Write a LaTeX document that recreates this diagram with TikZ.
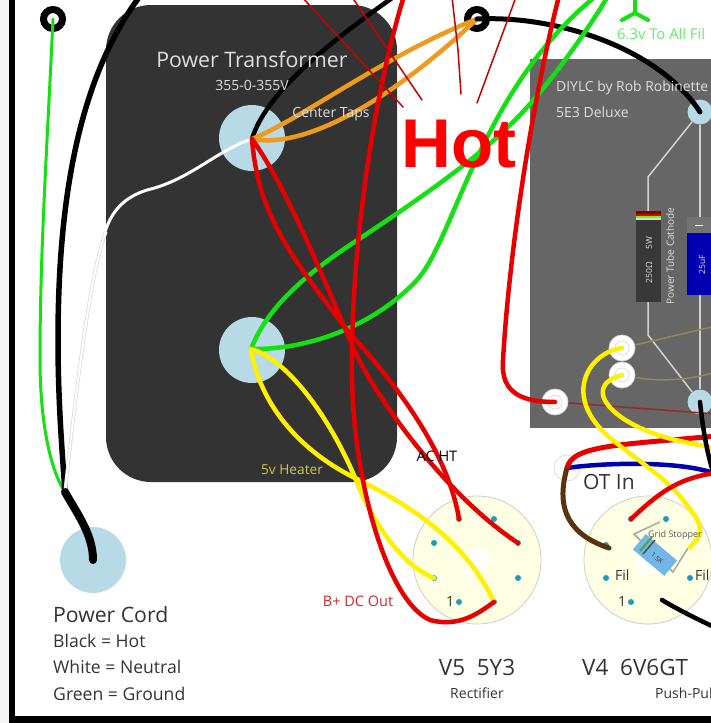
\documentclass[tikz,border=0pt]{standalone}
\usepackage{fontspec}
\setmainfont{Open Sans}
\newfontfamily\hotfont{Liberation Sans}
\definecolor{lugblue}{HTML}{B8D9E6}
\definecolor{xfmrgrey}{HTML}{333333}
\definecolor{chassisgrey}{HTML}{666666}
\definecolor{sockcream}{HTML}{FFFFE3}
\definecolor{pinteal}{HTML}{1C9CB8}
\definecolor{wirered}{HTML}{E60000}
\definecolor{wiregreen}{HTML}{14E014}
\definecolor{wireorange}{HTML}{EE9A1C}
\definecolor{wireyellow}{HTML}{FFF000}
\definecolor{wirebrown}{HTML}{5C320C}
\definecolor{wireblue}{HTML}{0000B0}
\definecolor{stopblue}{HTML}{74B6E8}
\tikzset{
    lug/.style={circle, fill=lugblue, inner sep=0pt, minimum size=66pt},
    smalllug/.style={circle, fill=lugblue, inner sep=0pt, minimum size=25pt},
    eyelet/.style={circle, draw=black, line width=7pt, fill=white, inner sep=0pt, minimum size=19pt},
    ringlug/.style={circle, draw=black!15, line width=0.7pt, fill=white, inner sep=0pt, minimum size=26pt},
    socket/.style={circle, draw=black!22, line width=0.7pt, fill=sockcream, inner sep=0pt, minimum size=128pt},
    sockhole/.style={circle, fill=white, inner sep=0pt, minimum size=24pt},
    pin/.style={circle, fill=pinteal, inner sep=0pt, minimum size=6pt},
    wire/.style={line width=4.5pt, line cap=round, line join=round},
    thinwire/.style={line width=1.5pt, line cap=round},
    trace/.style={line width=1.5pt, draw=black!18},
    txt/.style={inner sep=0pt, text=black!80},
    lighttxt/.style={inner sep=0pt, text=black!13}
}
\begin{document}
\begin{tikzpicture}[x=1pt, y=-1pt]
        \useasboundingbox (0,0) rectangle (711,723);
        \clip (0,0) rectangle (711,723);
        % Page edge and frame
        \fill[black!4] (0,0) rectangle (9,723);
        \fill[black] (9,0) rectangle (15,723);
        \fill[black] (9,716) rectangle (711,723);

        % Transformer and chassis
        \fill[xfmrgrey, rounded corners=45pt] (106,5) rectangle (397,482);
        \fill[chassisgrey] (530,59) rectangle (720,428);

        % Terminals
        \node[lug] (TapLug) at (252,138) {};
        \node[lug] (HeatLug) at (252,350) {};
        \node[lug] (CordLug) at (93,560) {};
        \node[eyelet] (GndEye) at (53,19) {};
        \node[eyelet] (TapEye) at (477,19) {};
        \node[smalllug] (TopLug) at (700,112) {};
        \node[smalllug] (LowLug) at (700,402) {};
        \node[ringlug] (OliveA) at (622,348) {};
        \node[ringlug] (OliveB) at (622,375) {};
        \node[ringlug] (RedLug) at (555,402) {};
        \node[ringlug] (OTLug) at (567,468) {};
        \draw[black!15, line width=0.7pt] (OliveA) circle (7pt);
        \draw[black!15, line width=0.7pt] (OliveB) circle (7pt);
        \draw[black!15, line width=0.7pt] (RedLug) circle (7pt);

        % Sockets
        \node[socket] (V5) at (477,560) {};
        \node[socket] (V4) at (648,560) {};
        \node[sockhole] (V5hole) at (477,560) {};
        \node[sockhole] (V4hole) at (648,560) {};
        \node[circle, fill=white, inner sep=0pt, minimum size=11pt] (V5notch) at (469,570) {};
        \node[circle, fill=white, inner sep=0pt, minimum size=11pt] (V4notch) at (644,570) {};
        \node[pin] (V5a) at (459,519) {};
        \node[pin] (V5b) at (494,519) {};
        \node[pin] (V5c) at (434,543) {};
        \node[pin] (V5d) at (518,543) {};
        \node[pin] (V5e) at (434,578) {};
        \node[pin] (V5f) at (518,578) {};
        \node[pin] (V5g) at (459,602) {};
        \node[pin] (V5h) at (494,602) {};
        \node[pin] (V4a) at (631,519) {};
        \node[pin] (V4b) at (666,519) {};
        \node[pin] (V4c) at (606,545) {};
        \node[pin] (V4e) at (606,578) {};
        \node[pin] (V4f) at (690,578) {};
        \node[pin] (V4g) at (631,602) {};

        % Free wire ends
        \coordinate (CordEnd) at (65,492);
        \coordinate (BlackTop) at (140,-4);
        \coordinate (TapOut) at (395,-4);
        \coordinate (RedTop) at (404,-4);
        \coordinate (RedTopB) at (559,-4);
        \coordinate (GreenTopA) at (596,-4);
        \coordinate (GreenTopB) at (608,-4);
        \coordinate (EdgeA) at (716,436);
        \coordinate (EdgeB) at (716,449);
        \coordinate (EdgeC) at (716,473);
        \coordinate (EdgeD) at (716,480);
        \coordinate (EdgeE) at (716,628);
        \coordinate (EdgeF) at (716,474);
        \coordinate (GridEnd) at (690,547);
        \coordinate (TapPoint) at (252,139);
        \coordinate (HeatPoint) at (251,349);
        \coordinate (V4brown) at (609,548);
        \coordinate (V4black) at (662,600);

        % Chassis traces
        \draw[trace] (TopLug) -- (648,177) -- (648,335) -- (LowLug);
        \draw[trace] (TopLug) -- (LowLug);
        \draw[line width=1.5pt, draw=olive!55!black!70!white] (OliveA) -- (716,326);
        \draw[line width=1.5pt, draw=olive!55!black!70!white] (OliveB) .. controls (660,382) and (690,380) .. (716,372);
        \draw[line width=1.5pt, draw=red!55!black!85!white] (RedLug) -- (716,414);

        % Chassis parts
        \fill[black!78] (636,211) rectangle (661,302);
        \fill[red!50!black] (636,211) rectangle (661,214);
        \fill[red!85!black] (636,214) rectangle (661,216);
        \fill[green!60!yellow] (636,216) rectangle (661,218);
        \fill[white!85!black] (636,218) rectangle (661,220);
        \fill[black!55] (687,217) rectangle (720,233);
        \fill[wireblue] (687,233) rectangle (720,295);
        \fill[white] (695,224.5) rectangle (703,226);
        \node[lighttxt, font=\fontsize{8.5}{10}\selectfont, rotate=90] (CathVal) at (649,260) {250Ω\quad\ \ 5W};
        \node[lighttxt, font=\fontsize{10}{12}\selectfont, rotate=90] (CathName) at (670,256) {Power Tube Cathode};
        \node[lighttxt, font=\fontsize{8.5}{10}\selectfont, rotate=90] (CapVal) at (702,265) {25uF};

        % Grid stopper
        \draw[line width=1.5pt, draw=black!35] (660,522) -- (634,534) -- (642,542);
        \draw[line width=1.5pt, draw=black!35] (668,567) -- (673,572) -- (688,548);
        \node[rectangle, fill=stopblue, minimum width=41pt, minimum height=20pt, inner sep=0pt, rotate=-40] (Stopper) at (655,555) {};
        \draw[line width=2pt, draw=green!50!black!70!white] (640,551) -- (652,537);
        \draw[line width=1.5pt, draw=black!70] (643,554) -- (655,540);
        \node[txt, font=\fontsize{6.5}{8}\selectfont, rotate=-40] (StopVal) at (657,558) {1.5K};

        % Power wires
        \draw[line width=3pt, draw=wiregreen, line cap=round] (GndEye.center) .. controls (47,150) and (40,250) .. (40,360) .. controls (40,420) and (50,470) .. (CordEnd);
        \draw[line width=5.5pt, draw=black] (BlackTop) .. controls (85,70) and (58,180) .. (58,340) .. controls (58,400) and (62,450) .. (CordEnd);
        \draw[line width=3.5pt, draw=black!15] (106,232) .. controls (90,270) and (75,400) .. (CordEnd);
        \draw[line width=2pt, draw=white] (106,232) .. controls (90,270) and (75,400) .. (CordEnd);
        \draw[line width=3pt, draw=white, line cap=round] (TapPoint) .. controls (217,150) and (190,180) .. (147,190) .. controls (125,197) and (112,210) .. (105,232);
        \draw[line width=8pt, draw=black, line cap=round] (CordEnd) .. controls (78,515) and (93,535) .. (CordLug.center);

        % Transformer wires
        \draw[wire, draw=black] (TapPoint) .. controls (265,95) and (325,45) .. (TapOut);
        \draw[wire, draw=wireorange] (TapPoint) .. controls (300,120) and (385,55) .. (TapEye.center);
        \draw[wire, draw=wireorange] (TapPoint) .. controls (310,150) and (400,92) .. (TapEye.center);
        \draw[line width=5pt, draw=black, line cap=round] (TapEye.center) .. controls (560,15) and (660,50) .. (TopLug.center);
        \draw[wire, draw=wiregreen] (HeatPoint) .. controls (310,350) and (375,325) .. (417,280) .. controls (455,238) and (480,90) .. (GreenTopA);
        \draw[wire, draw=wiregreen] (HeatPoint) .. controls (268,305) and (310,272) .. (350,245) .. controls (400,212) and (470,165) .. (510,125) .. controls (540,97) and (585,35) .. (GreenTopB);
        \draw[wire, draw=wireyellow] (HeatPoint) .. controls (290,360) and (335,425) .. (360,490) .. controls (372,518) and (400,565) .. (V5e.center);
        \draw[wire, draw=wireyellow] (HeatPoint) .. controls (258,395) and (290,445) .. (353,477) .. controls (410,505) and (465,540) .. (V5h.center);
        \draw[wire, draw=wirered] (TapPoint) .. controls (258,215) and (290,255) .. (347,330) .. controls (385,372) and (447,445) .. (V5a.center);
        \draw[wire, draw=wirered] (TapPoint) .. controls (285,185) and (320,270) .. (353,347) .. controls (373,394) and (445,495) .. (V5d.center);
        \draw[wire, draw=wirered] (RedTop) .. controls (375,90) and (352,240) .. (352,360) .. controls (350,470) and (385,600) .. (430,620) .. controls (460,628) and (480,612) .. (V5h.center);
        \draw[wire, draw=wirered] (RedTopB) .. controls (535,90) and (510,240) .. (503,360) .. controls (500,395) and (525,402) .. (RedLug.center);

        % Output wires
        \draw[wire, draw=wireblue] (OTLug.center) .. controls (600,463) and (680,460) .. (EdgeF);
        \draw[line width=5pt, draw=wirebrown, line cap=round] (OTLug.center) .. controls (555,510) and (570,535) .. (V4brown);
        \draw[line width=5pt, draw=wirered] (OTLug.center) .. controls (572,445) and (620,445) .. (EdgeA);
        \draw[wire, draw=wireyellow] (OliveA.center) .. controls (590,352) and (560,395) .. (610,438) .. controls (640,462) and (668,480) .. (683,500) .. controls (700,522) and (708,530) .. (GridEnd);
        \draw[wire, draw=wireyellow] (OliveB.center) .. controls (585,385) and (605,415) .. (650,432) .. controls (675,442) and (695,443) .. (EdgeB);
        \draw[wire, draw=wirered] (V4a.center) .. controls (655,497) and (675,478) .. (EdgeC);
        \draw[wire, draw=black] (LowLug.center) .. controls (703,430) and (708,460) .. (EdgeD);
        \draw[wire, draw=black] (V4black) .. controls (675,608) and (695,618) .. (EdgeE);

        % 6.3v symbol
        \draw[line width=4pt, draw=wiregreen, line cap=round] (635,-3) -- (635,13) -- (622,20);
        \draw[line width=4pt, draw=wiregreen, line cap=round] (635,13) -- (648,20);

        % Hot pointers
        \coordinate (HotA) at (403,107);
        \coordinate (HotB) at (422,100);
        \coordinate (HotC) at (461,94);
        \coordinate (HotD) at (477,103);
        \draw[thinwire, draw=red!78!black] (302,-3) -- (HotA);
        \draw[thinwire, draw=red!78!black] (352,-3) -- (HotB);
        \draw[thinwire, draw=red!78!black] (452,-3) -- (458,50) -- (HotC);
        \draw[thinwire, draw=red!78!black] (516,-3) -- (HotD);
        \node[inner sep=0pt, anchor=base, text=red, font=\hotfont\bfseries\fontsize{69}{70}\selectfont] (Hot) at (459,167) {Hot};

        % Labels
        \node[lighttxt, anchor=base, font=\fontsize{21.3}{25}\selectfont] (XfmrName) at (252,67) {Power Transformer};
        \node[lighttxt, anchor=base, font=\fontsize{14}{16}\selectfont] (XfmrVolt) at (252,90) {355-0-355V};
        \node[lighttxt, anchor=base, font=\fontsize{14}{16}\selectfont] (TapName) at (331,117) {Center Taps};
        \node[inner sep=0pt, anchor=base, text=yellow!75!black!85!white, font=\fontsize{13.7}{16}\selectfont] (HeatName) at (292,474) {5v Heater};
        \node[inner sep=0pt, anchor=base, text=black, font=\fontsize{14.5}{17}\selectfont] (ACName) at (437,461) {AC HT};
        \node[inner sep=0pt, anchor=base, text=red!80!black!85!white, font=\fontsize{14.5}{17}\selectfont] (DCName) at (358,606) {B+ DC Out};
        \node[lighttxt, anchor=base west, font=\fontsize{13.9}{16}\selectfont] (Credit) at (556,91) {DIYLC by Rob Robinette};
        \node[lighttxt, anchor=base west, font=\fontsize{14}{16}\selectfont] (Model) at (556,117) {5E3 Deluxe};
        \node[inner sep=0pt, anchor=base west, text=green!85!black!60!white, font=\fontsize{14.8}{17}\selectfont] (FilName) at (617,39) {6.3v To All Fil};
        \node[txt, anchor=base west, font=\fontsize{21.2}{25}\selectfont] (CordName) at (53,622) {Power Cord};
        \node[txt, anchor=base west, font=\fontsize{17.6}{20}\selectfont] (CordHot) at (53,647) {Black = Hot};
        \node[txt, anchor=base west, font=\fontsize{17.6}{20}\selectfont] (CordNeu) at (53,673) {White = Neutral};
        \node[txt, anchor=base west, font=\fontsize{17.6}{20}\selectfont] (CordGnd) at (53,700) {Green = Ground};
        \node[txt, anchor=base, font=\fontsize{22.5}{26}\selectfont] (V5name) at (477,675) {V5\ \ 5Y3};
        \node[txt, anchor=base, font=\fontsize{14}{16}\selectfont] (V5use) at (477,698) {Rectifier};
        \node[txt, anchor=base west, font=\fontsize{22.5}{26}\selectfont] (V4name) at (582,675) {V4\ \ 6V6GT};
        \node[txt, anchor=base west, font=\fontsize{14}{16}\selectfont] (V4use) at (655,698) {Push-Pull};
        \node[txt, anchor=base west, font=\fontsize{21}{25}\selectfont] (OTName) at (583,489) {OT In};
        \node[txt, anchor=base, font=\fontsize{14}{16}\selectfont] (V5one) at (450,606) {1};
        \node[txt, anchor=base, font=\fontsize{14}{16}\selectfont] (V4one) at (622,606) {1};
        \node[txt, anchor=base west, font=\fontsize{14}{16}\selectfont] (FilA) at (615,580) {Fil};
        \node[txt, anchor=base west, font=\fontsize{14}{16}\selectfont] (FilB) at (695,580) {Fil};
        \node[txt, anchor=base, text=black!65, font=\fontsize{9}{11}\selectfont] (GridName) at (675,537) {Grid Stopper};
\end{tikzpicture}
\end{document}
